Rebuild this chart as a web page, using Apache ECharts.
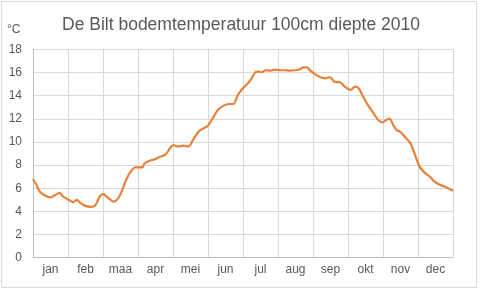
<!DOCTYPE html>
<html><head><meta charset="utf-8">
<script src="https://cdn.jsdelivr.net/npm/echarts@6/dist/echarts.min.js"></script>
<style>html,body{margin:0;padding:0;background:#fff}#c{width:481px;height:289px}</style>
</head><body><div id="c"></div>
<script>
const title = 'De Bilt bodemtemperatuur 100cm diepte 2010';
const unitLabel = '°C';
const months = ['jan','feb','maa','apr','mei','jun','jul','aug','sep','okt','nov','dec'];
const days = [0,3,6,10,15,19,23,26,31,35,38,41,45,50,54,58,61,65,70,74,77,80,84,89,95,97,102,106,110,115,119,122,126,131,135,139,144,148,152,157,161,165,170,174,178,183,187,190,193,196,199,202,206,210,215,219,223,228,232,235,238,241,245,249,254,258,262,267,271,276,280,283,287,291,296,300,304,307,310,313,316,319,323,328,332,336,341,345,349,354,358,362,365];
const temps = [6.8,6.3,5.7,5.4,5.2,5.4,5.6,5.3,5.0,4.8,5.0,4.75,4.5,4.4,4.5,5.3,5.5,5.2,4.84,5.13,5.7,6.5,7.3,7.8,7.8,8.16,8.4,8.5,8.7,8.9,9.45,9.74,9.6,9.68,9.6,10.17,10.9,11.18,11.4,12.19,12.8,13.1,13.28,13.28,14.06,14.7,15.1,15.5,16.0,16.08,16.02,16.2,16.16,16.25,16.2,16.2,16.16,16.2,16.28,16.45,16.45,16.16,15.87,15.64,15.5,15.6,15.2,15.16,14.78,14.5,14.78,14.64,13.9,13.2,12.48,11.9,11.7,11.9,12.0,11.47,11.04,10.89,10.46,9.89,8.88,7.87,7.29,7.0,6.57,6.28,6.14,5.94,5.79];
const yTicks = [0,2,4,6,8,10,12,14,16,18];

const chart = echarts.init(document.getElementById('c'), null, {renderer:'canvas'});
chart.setOption({
  animation:false,
  backgroundColor:'#fff',
  title:{text:title,left:236,top:11,textAlign:'center',
    textStyle:{fontFamily:'Liberation Sans',fontSize:17.5,fontWeight:'normal',color:'#595959'}},
  graphic:[
    {type:'rect',shape:{x:1.5,y:1.5,width:475,height:286},style:{fill:'none',stroke:'#d9d9d9',lineWidth:1},silent:true},
    {type:'text',left:7,top:24,style:{text:unitLabel,fontFamily:'Liberation Sans',fontSize:12,fill:'#595959'}}
  ],
  grid:{left:33,right:28,top:49.4,bottom:31.3,containLabel:false},
  xAxis:[
    {type:'category',data:months,boundaryGap:true,
     axisLine:{lineStyle:{color:'#bfbfbf'}},axisTick:{show:false},
     axisLabel:{color:'#595959',fontFamily:'Liberation Sans',fontSize:12,margin:6,interval:0},
     splitLine:{show:true,lineStyle:{color:'#d9d9d9'}}},
    {type:'value',min:0,max:365,show:false}
  ],
  yAxis:{type:'value',min:yTicks[0],max:yTicks[yTicks.length-1],interval:2,
    axisLine:{show:true,lineStyle:{color:'#bfbfbf'}},axisTick:{show:false},
    axisLabel:{color:'#595959',fontFamily:'Liberation Sans',fontSize:12,margin:11},
    splitLine:{lineStyle:{color:'#d9d9d9'}}},
  series:[{type:'line',xAxisIndex:1,data:days.map((d,i)=>[d,temps[i]]),
    showSymbol:false,smooth:0.3,lineStyle:{color:'#E8823A',width:2.2}}]
});
</script></body></html>
